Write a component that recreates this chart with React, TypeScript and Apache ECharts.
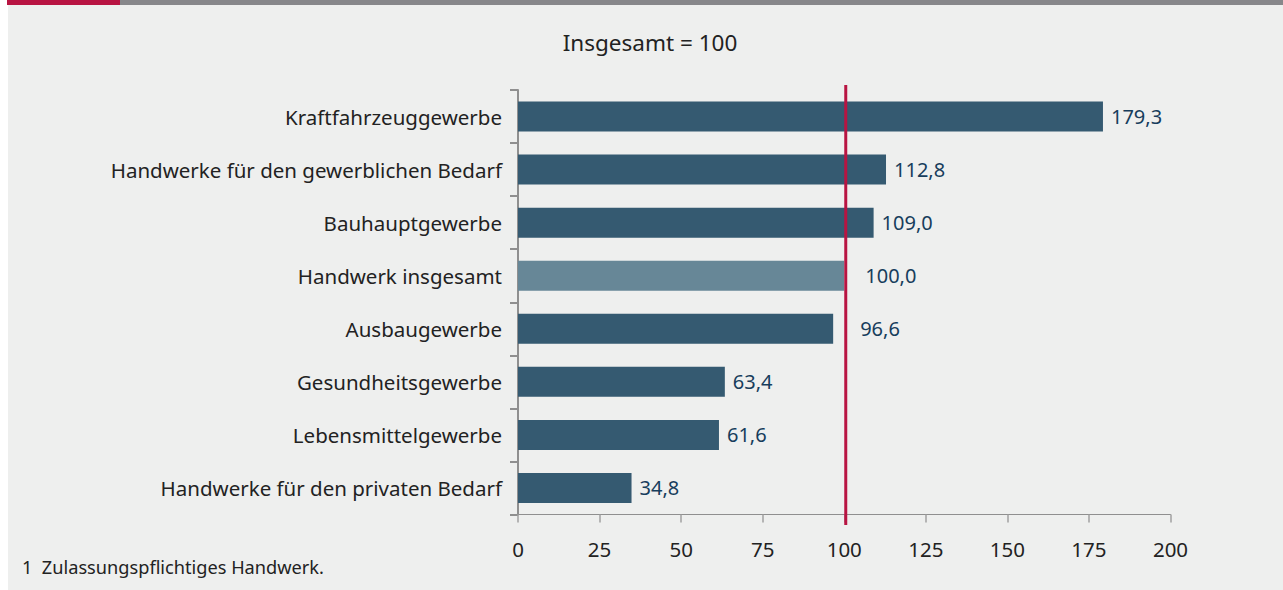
import React, { useEffect, useRef } from "react";
import * as echarts from "echarts";

const categories = [
  "Kraftfahrzeuggewerbe",
  "Handwerke für den gewerblichen Bedarf",
  "Bauhauptgewerbe",
  "Handwerk insgesamt",
  "Ausbaugewerbe",
  "Gesundheitsgewerbe",
  "Lebensmittelgewerbe",
  "Handwerke für den privaten Bedarf",
];
const values = [179.3, 112.8, 109.0, 100.0, 96.6, 63.4, 61.6, 34.8];
const highlightCategory = "Handwerk insgesamt";
const referenceValue = 100;
const xTicks = { min: 0, max: 200, interval: 25 };
const title = "Insgesamt = 100";
const footnote = "1  Zulassungspflichtiges Handwerk.";

const FONT = "'Noto Sans', 'Open Sans', sans-serif";

export default function App() {
  const ref = useRef<HTMLDivElement>(null);

  useEffect(() => {
    document.body.style.margin = "0";
    if (!ref.current) return;
    const chart = echarts.init(ref.current, null, { renderer: "svg" });
    const data = values.map((v, i) => {
      const isHi = categories[i] === highlightCategory;
      const nearRef = !isHi && v < referenceValue && v > referenceValue - 10;
      return {
        value: v,
        itemStyle: { color: isHi ? "#678797" : "#355a71" },
        label: { distance: isHi ? 21 : nearRef ? 27 : 8 },
      };
    });
    const staticGraphics = [
      { type: "rect", shape: { x: 8, y: 5, width: 1275, height: 585 }, style: { fill: "#eeefee" }, z: -10 },
      { type: "rect", shape: { x: 7, y: 0, width: 113, height: 5 }, style: { fill: "#b81442" } },
      { type: "rect", shape: { x: 120, y: 0, width: 1163, height: 5 }, style: { fill: "#87878a" } },
      {
        type: "text",
        x: 650,
        y: 42,
        style: { text: title, fontSize: 22.5, fill: "#222", fontFamily: FONT, align: "center", verticalAlign: "middle" },
      },
      {
        type: "text",
        x: 22,
        y: 567,
        style: { text: footnote, fontSize: 18.2, fill: "#222", fontFamily: FONT, align: "left", verticalAlign: "middle" },
      },
    ];
    chart.setOption({
      animation: false,
      backgroundColor: "#ffffff",
      textStyle: { fontFamily: FONT },
      grid: { left: 518, right: 112.5, top: 90, bottom: 75.5 },
      xAxis: {
        type: "value",
        min: xTicks.min,
        max: xTicks.max,
        interval: xTicks.interval,
        axisLine: { show: true, lineStyle: { color: "#8f8f8f", width: 1 } },
        axisTick: { show: true, length: 8, lineStyle: { color: "#a0a0a0", width: 1.5 } },
        splitLine: { show: false },
        axisLabel: { color: "#222", fontSize: 20.5, margin: 24, fontFamily: FONT },
      },
      yAxis: {
        type: "category",
        data: categories,
        inverse: true,
        axisLine: { show: true, lineStyle: { color: "#8f8f8f", width: 2 } },
        axisTick: { show: true, length: 8, lineStyle: { color: "#8f8f8f", width: 2 } },
        axisLabel: { color: "#222", fontSize: 20.5, margin: 16, fontFamily: FONT },
      },
      series: [
        {
          type: "bar",
          data,
          barWidth: 30,
          label: {
            show: true,
            position: "right",
            color: "#173d5c",
            fontSize: 20,
            fontFamily: FONT,
            formatter: (p: any) => p.value.toFixed(1).replace(".", ","),
          },
        },
      ],
      graphic: staticGraphics,
    });
    const xRef = chart.convertToPixel({ xAxisIndex: 0 }, referenceValue) as number;
    chart.setOption({
      graphic: [
        ...staticGraphics,
        {
          type: "line",
          shape: { x1: xRef + 1.5, y1: 85, x2: xRef + 1.5, y2: 525 },
          style: { stroke: "#b81442", lineWidth: 3 },
          z: 100,
        },
      ],
    });
    return () => chart.dispose();
  }, []);

  return <div ref={ref} style={{ width: 1283, height: 590 }} />;
}
